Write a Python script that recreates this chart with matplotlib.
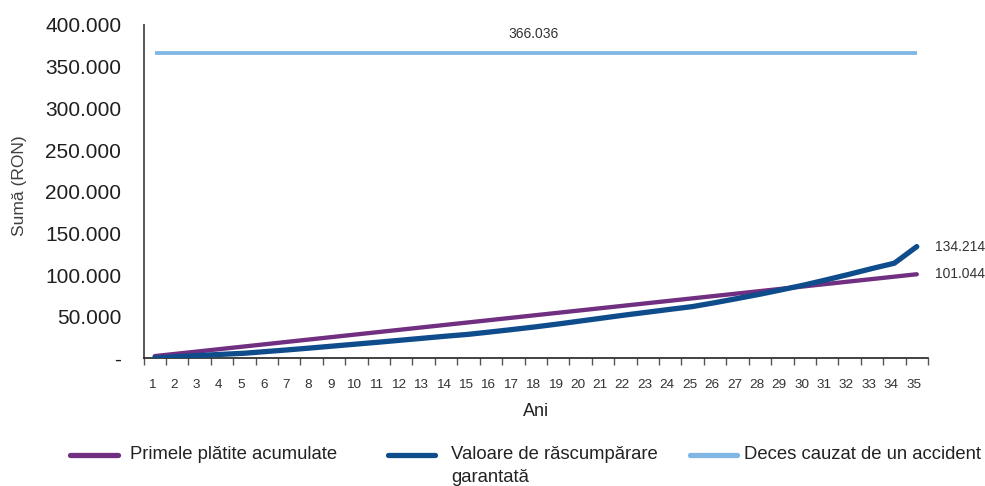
import matplotlib
matplotlib.use("Agg")
import matplotlib.pyplot as plt
from matplotlib.lines import Line2D
from matplotlib.ticker import FuncFormatter, FixedLocator
import matplotlib.transforms as mtransforms

plt.rcParams['font.family'] = ['Liberation Sans', 'DejaVu Sans']

years = list(range(1, 36))
primele = [2887, 5774, 8661, 11548, 14435, 17322, 20209, 23096, 25983, 28870,
           31757, 34644, 37531, 40418, 43305, 46192, 49079, 51966, 54853, 57740,
           60627, 63514, 66401, 69288, 72175, 75062, 77949, 80836, 83723, 86610,
           89497, 92384, 95271, 98158, 101044]
valoare = [500, 2300, 3700, 5000, 6300, 8400, 10500, 12700, 15000, 17300,
           19600, 22000, 24400, 26800, 29000, 31900, 34900, 38000, 41400, 45000,
           48600, 52200, 55600, 59000, 62300, 67000, 72000, 77100, 82600, 88300,
           94600, 101100, 107900, 114300, 134214]
deces = [366036] * 35

labels = ["Primele plătite acumulate", "Valoare de răscumpărare\ngarantată",
          "Deces cauzat de un accident"]
colors = ["#702F80", "#0F4C8C", "#80B6E4"]
yticks = [0, 50000, 100000, 150000, 200000, 250000, 300000, 350000, 400000]

W, H = 985, 486
fig = plt.figure(figsize=(W / 100, H / 100), dpi=100)
ax = fig.add_axes([143.5 / W, 1 - 358.5 / H, (928 - 143.5) / W, (358.5 - 25) / H])

ax.plot(years, deces, color=colors[2], lw=2.7, solid_capstyle='butt', zorder=2)
ax.plot(years, primele, color=colors[0], lw=3.1, solid_capstyle='round', zorder=3)
ax.plot(years, valoare, color=colors[1], lw=3.8, solid_capstyle='round', zorder=4)

ax.set_xlim(0.5, 35.5)
ax.set_ylim(0, 400000)

def fmt(v, pos):
    if v == 0:
        return "-"
    return f"{int(v):,}".replace(",", ".")

ax.yaxis.set_major_locator(FixedLocator(yticks))
ax.yaxis.set_major_formatter(FuncFormatter(fmt))
ax.tick_params(axis='y', length=0, pad=16, labelsize=15, labelcolor='#1f1f1f')

ax.set_xticks(years)
ax.set_xticklabels([str(y) for y in years])
ax.xaxis.set_minor_locator(FixedLocator([y + 0.5 for y in [0] + years]))
ax.tick_params(axis='x', which='major', length=0, pad=14.5, labelsize=9.7, labelcolor='#333333')
ax.tick_params(axis='x', which='minor', length=5, width=1.0, color='#555555')
offset = mtransforms.ScaledTranslation(-3 / 100, 0, fig.dpi_scale_trans)
for lab in ax.get_xticklabels():
    lab.set_transform(lab.get_transform() + offset)

for s in ['top', 'right']:
    ax.spines[s].set_visible(False)
ax.spines['left'].set_color('#555555')
ax.spines['left'].set_linewidth(1.4)
ax.spines['bottom'].set_color('#222222')
ax.spines['bottom'].set_linewidth(1.2)

ax.set_xlabel("Ani", fontsize=13, color='#222222', labelpad=9)
ax.set_ylabel("Sumă (RON)", fontsize=12.5, color='#404040', labelpad=0)
ax.yaxis.set_label_coords(-(143.5 - 27) / (928 - 143.5), (358.5 - 186) / (358.5 - 25))

# value annotations
ax.annotate(fmt(deces[17], 0), xy=(years[17], deces[17]), xytext=(-2, 19.5),
            textcoords='offset pixels', ha='center', va='center', fontsize=10, color='#333333')
ax.annotate(fmt(valoare[-1], 0), xy=(years[-1], valoare[-1]), xytext=(18.5, 0),
            textcoords='offset pixels', ha='left', va='center', fontsize=10, color='#333333')
ax.annotate(fmt(primele[-1], 0), xy=(years[-1], primele[-1]), xytext=(18.5, 0),
            textcoords='offset pixels', ha='left', va='center', fontsize=10, color='#333333')

# manual legend
leg_y = 1 - 455 / H
handles_x = [(70, 118), (388, 435), (690, 737)]
text_x = [130, 451, 744]
for (x0, x1), tx, lab, c in zip(handles_x, text_x, labels, colors):
    fig.add_artist(Line2D([x0 / W, x1 / W], [leg_y, leg_y], color=c, lw=3.8,
                          solid_capstyle='round', transform=fig.transFigure))
    fig.text(tx / W, leg_y + 9 / H, lab, ha='left', va='top', fontsize=13.3,
             color='#222222', linespacing=1.45)

fig.savefig("out.png", dpi=100)
